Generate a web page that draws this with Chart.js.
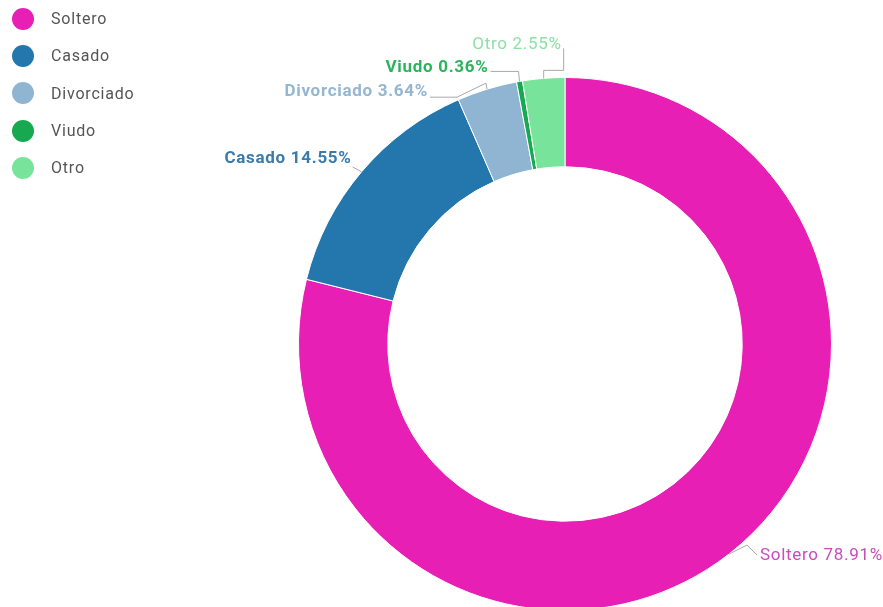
<!DOCTYPE html>
<html>
<head>
<meta charset="utf-8">
<script src="https://cdn.jsdelivr.net/npm/chart.js@4.4.1/dist/chart.umd.min.js"></script>
<style>
  html, body { margin: 0; padding: 0; background: #fff; overflow: hidden; }
  #wrap { position: relative; width: 883px; height: 611px; }
  #legend { position: absolute; left: 12px; top: 0; font-family: Roboto, sans-serif; font-size: 16px; letter-spacing: 0.8px; color: #555; }
  #legend .item { display: flex; align-items: center; height: 37.3px; }
  #legend .dot { width: 22px; height: 22px; border-radius: 50%; margin-right: 17px; }
</style>
</head>
<body>
<div id="wrap">
  <canvas id="civilChart" width="883" height="611"></canvas>
  <div id="legend"></div>
</div>
<script>
// Estado civil
const categories = ['Soltero', 'Casado', 'Divorciado', 'Viudo', 'Otro'];
const percentages = [78.91, 14.55, 3.64, 0.36, 2.55];

const sliceColors = ['#e81fb5', '#2377ad', '#8fb5d3', '#16a94f', '#78e39b'];
const labelColors = ['#c84cb9', '#3b7bab', '#94b6d1', '#2cb35e', '#8ee0a6'];
const labelWeights = ['normal', 'bold', 'bold', 'bold', 'normal'];

// leader line bends (relative to the slice edge) and text side
const leaderPaths = [
  { pts: [[18, -9], [28, 1]], align: 'left', tx: 3, ty: 1 },
  { pts: [[-9, -5]], align: 'right', tx: -1, ty: -8 },
  { pts: [[-1, -6], [-30, 8], [-57, 8]], align: 'right', tx: -2, ty: -5 },
  { pts: [[-1, -10], [-29, -10]], align: 'right', tx: -2, ty: -4 },
  { pts: [[0, -8], [20, -8], [20, -30]], align: 'right', tx: -2, ty: -4 }
];

// HTML legend
const legendEl = document.getElementById('legend');
categories.forEach((c, i) => {
  const row = document.createElement('div');
  row.className = 'item';
  row.innerHTML = `<span class="dot" style="background:${sliceColors[i]}"></span><span>${c}</span>`;
  legendEl.appendChild(row);
});

// Outside labels with leader lines
const outsideLabels = {
  id: 'outsideLabels',
  afterDatasetsDraw(chart) {
    const ctx = chart.ctx;
    const meta = chart.getDatasetMeta(0);
    meta.data.forEach((arc, i) => {
      const mid = (arc.startAngle + arc.endAngle) / 2;
      const ax = arc.x + Math.cos(mid) * arc.outerRadius;
      const ay = arc.y + Math.sin(mid) * arc.outerRadius;
      const lp = leaderPaths[i];
      ctx.save();
      ctx.strokeStyle = '#a8a8a8';
      ctx.lineWidth = 1;
      ctx.beginPath();
      ctx.moveTo(ax, ay);
      let ex = ax, ey = ay;
      lp.pts.forEach(p => {
        ex = ax + p[0];
        ey = ay + p[1];
        ctx.lineTo(ex, ey);
      });
      ctx.stroke();
      ctx.font = `${labelWeights[i]} 17px Roboto, sans-serif`;
      ctx.letterSpacing = '0.7px';
      ctx.fillStyle = labelColors[i];
      ctx.textAlign = lp.align;
      ctx.textBaseline = 'middle';
      ctx.fillText(`${categories[i]} ${percentages[i].toFixed(2)}%`, ex + lp.tx, ey + lp.ty);
      ctx.restore();
    });
  }
};

new Chart(document.getElementById('civilChart'), {
  type: 'doughnut',
  data: {
    labels: categories,
    datasets: [{
      data: percentages,
      backgroundColor: sliceColors,
      borderColor: '#ffffff',
      borderWidth: 1
    }]
  },
  options: {
    responsive: false,
    animation: false,
    cutout: '66.5%',
    layout: { padding: { top: 77, bottom: 0, left: 298, right: 51 } },
    plugins: {
      legend: { display: false },
      tooltip: { enabled: false }
    }
  },
  plugins: [outsideLabels]
});
</script>
</body>
</html>
